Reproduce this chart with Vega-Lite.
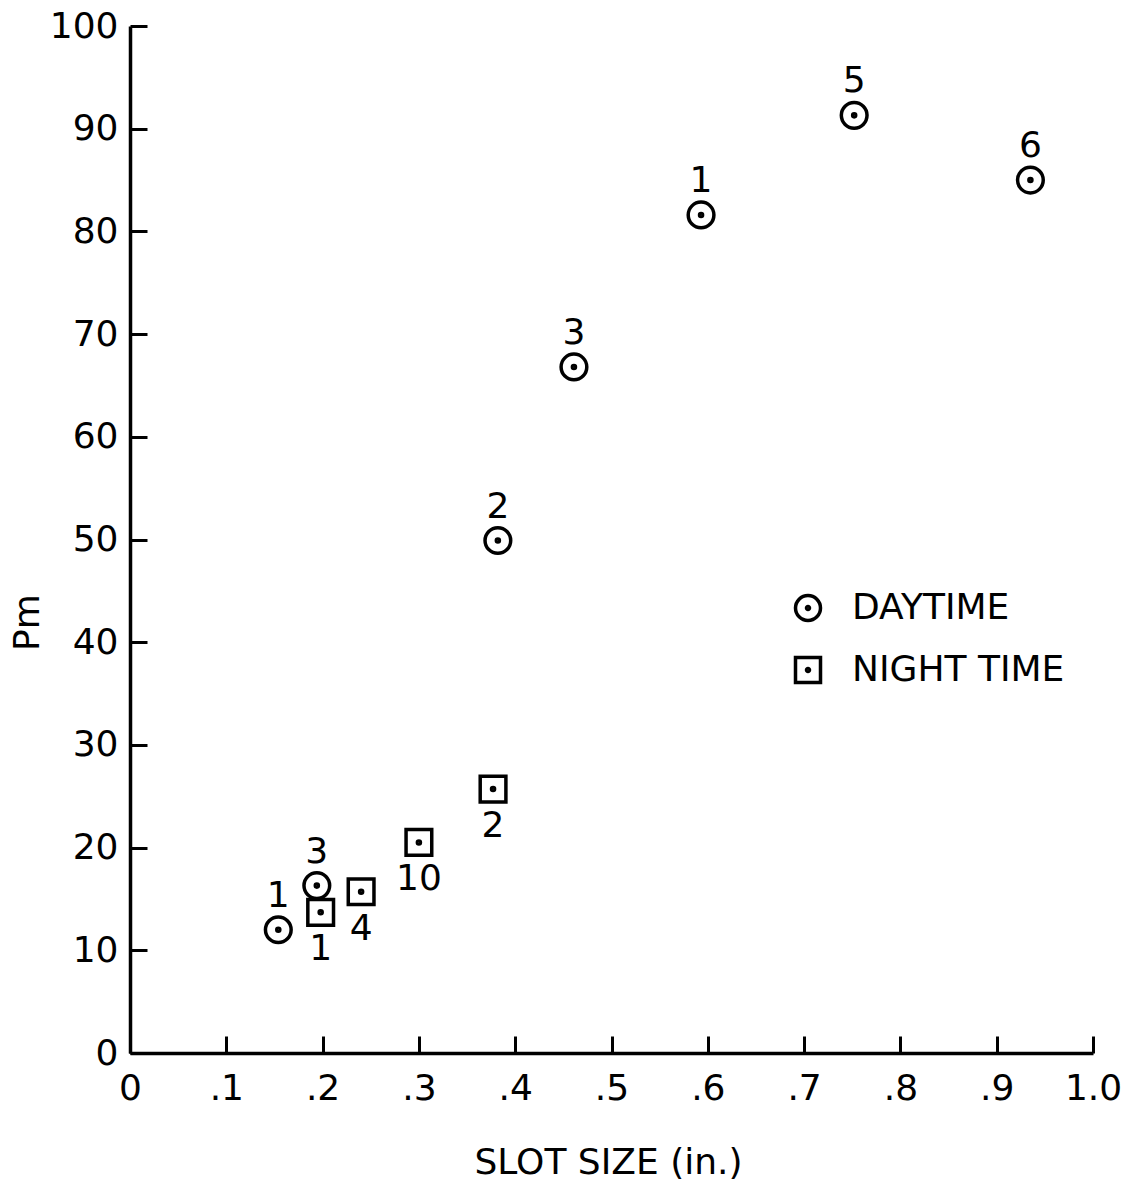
{
  "$schema": "https://vega.github.io/schema/vega-lite/v6.json",
  "width": 963,
  "height": 1027,
  "autosize": {"type": "none"},
  "padding": {"left": 130, "top": 26, "right": 35, "bottom": 129},
  "background": "white",
  "config": {
    "view": {"stroke": null},
    "font": "DejaVu Sans",
    "axis": {
      "domainColor": "black",
      "domainWidth": 3.5,
      "tickColor": "black",
      "tickWidth": 3,
      "tickSize": -17,
      "grid": false,
      "labelFlush": false,
      "labelColor": "black",
      "labelFontSize": 36,
      "labelFont": "DejaVu Sans",
      "titleColor": "black",
      "titleFontSize": 36,
      "titleFontWeight": "normal",
      "titleFont": "DejaVu Sans"
    }
  },
  "data": {
    "values": [
      {"x": 0.154, "y": 12.0, "n": "1", "series": "DAYTIME"},
      {"x": 0.194, "y": 16.3, "n": "3", "series": "DAYTIME"},
      {"x": 0.382, "y": 49.9, "n": "2", "series": "DAYTIME"},
      {"x": 0.461, "y": 66.8, "n": "3", "series": "DAYTIME"},
      {"x": 0.593, "y": 81.6, "n": "1", "series": "DAYTIME"},
      {"x": 0.752, "y": 91.3, "n": "5", "series": "DAYTIME"},
      {"x": 0.935, "y": 85.0, "n": "6", "series": "DAYTIME"},
      {"x": 0.198, "y": 13.7, "n": "1", "series": "NIGHT TIME"},
      {"x": 0.240, "y": 15.7, "n": "4", "series": "NIGHT TIME"},
      {"x": 0.300, "y": 20.5, "n": "10", "series": "NIGHT TIME"},
      {"x": 0.377, "y": 25.7, "n": "2", "series": "NIGHT TIME"}
    ]
  },
  "encoding": {
    "x": {
      "field": "x",
      "type": "quantitative",
      "scale": {"domain": [0, 1], "nice": false, "zero": false},
      "axis": {
        "values": [0, 0.1, 0.2, 0.3, 0.4, 0.5, 0.6, 0.7, 0.8, 0.9, 1.0],
        "labelExpr": "datum.value == 0 ? '0' : (datum.value >= 0.999 ? '1.0' : replace(format(datum.value, '.1f'), '0.', '.'))",
        "labelPadding": 35,
        "title": "SLOT SIZE (in.)",
        "titleX": 478,
        "titleY": 120,
        "titleAlign": "center",
        "titleBaseline": "alphabetic"
      }
    },
    "y": {
      "field": "y",
      "type": "quantitative",
      "scale": {"domain": [0, 100], "nice": false},
      "axis": {
        "values": [0, 10, 20, 30, 40, 50, 60, 70, 80, 90, 100],
        "labelPadding": 29,
        "title": "Pm",
        "titleAngle": 270,
        "titleX": -92,
        "titleY": 596,
        "titleAlign": "center",
        "titleBaseline": "alphabetic"
      }
    }
  },
  "layer": [
    {
      "mark": {"type": "point", "filled": false, "stroke": "black", "strokeWidth": 3.5, "size": 660, "opacity": 1},
      "encoding": {
        "shape": {
          "field": "series",
          "type": "nominal",
          "scale": {
            "domain": ["DAYTIME", "NIGHT TIME"],
            "range": [
              "M -1 0 A 1 1 0 1 0 1 0 A 1 1 0 1 0 -1 0 Z M -0.12 0 A 0.12 0.12 0 1 0 0.12 0 A 0.12 0.12 0 1 0 -0.12 0 Z",
              "M -1 -1 L 1 -1 L 1 1 L -1 1 Z M -0.12 0 A 0.12 0.12 0 1 0 0.12 0 A 0.12 0.12 0 1 0 -0.12 0 Z"
            ]
          },
          "legend": {
            "title": null,
            "orient": "none",
            "legendX": 660,
            "legendY": 564,
            "labelFontSize": 36,
            "labelFont": "DejaVu Sans",
            "labelColor": "black",
            "labelLimit": 500,
            "labelOffset": 26,
            "rowPadding": 22,
            "symbolSize": 625,
            "symbolStrokeWidth": 3.5,
            "symbolStrokeColor": "black",
            "symbolFillColor": "transparent",
            "symbolType": "circle"
          }
        }
      }
    },
    {
      "transform": [{"filter": "datum.series == 'DAYTIME'"}],
      "mark": {"type": "text", "fontSize": 36, "font": "DejaVu Sans", "color": "black", "baseline": "alphabetic", "align": "center", "dy": -23},
      "encoding": {"text": {"field": "n"}}
    },
    {
      "transform": [{"filter": "datum.series == 'NIGHT TIME'"}],
      "mark": {"type": "text", "fontSize": 36, "font": "DejaVu Sans", "color": "black", "baseline": "alphabetic", "align": "center", "dy": 48},
      "encoding": {"text": {"field": "n"}}
    }
  ]
}
